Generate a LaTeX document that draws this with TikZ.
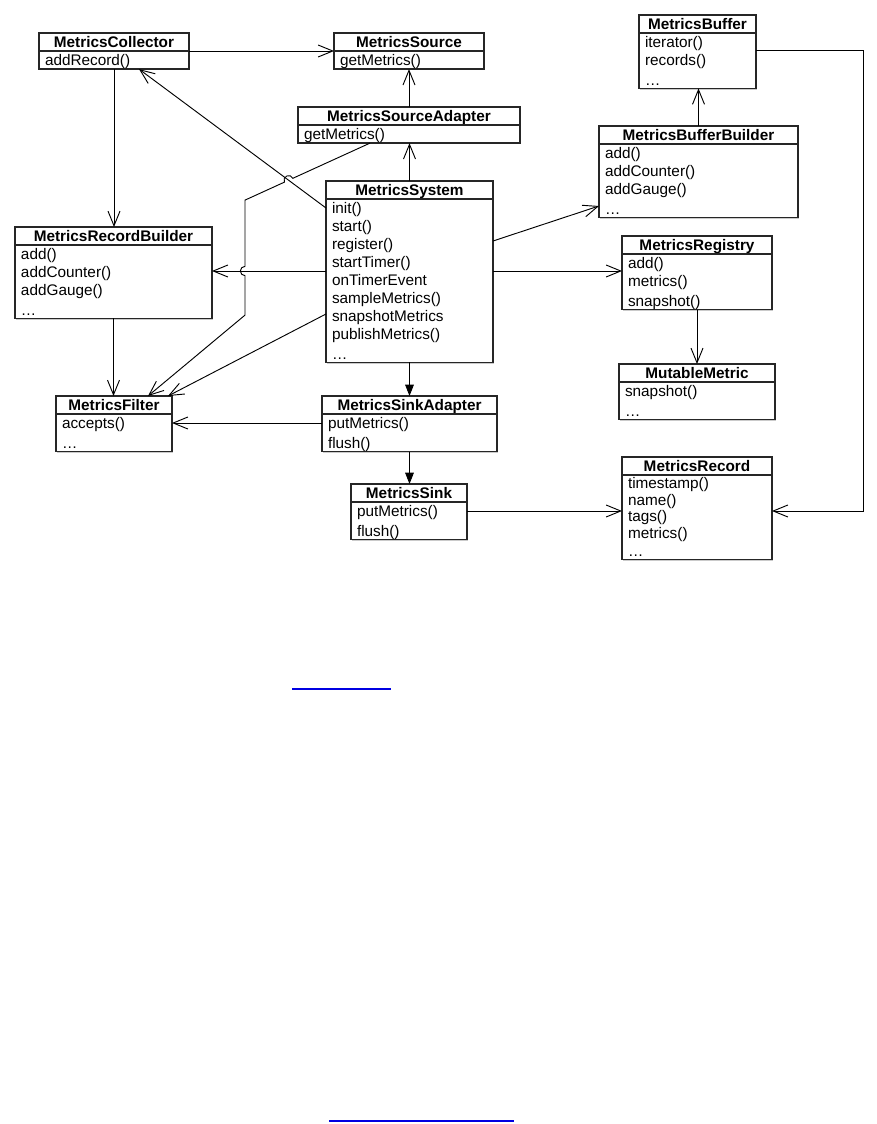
\documentclass[tikz,border=0pt]{standalone}
\usepackage{fontspec}
\setmainfont{Liberation Sans}
\usetikzlibrary{arrows.meta,calc,intersections,shadows}
\definecolor{linkblue}{RGB}{0,0,225}
\newcommand\rs{\rule[-0.17\baselineskip]{0pt}{\baselineskip}}
\newcommand\umlskipfix{\lineskiplimit=-20pt\relax\lineskip=0pt\relax}
\newcommand\umlclass[8]{%
  \pgfmathsetlengthmacro\umlW{#4*0.75pt}%
  \pgfmathsetlengthmacro\umlTW{#4*0.75pt-9pt}%
  \pgfmathsetlengthmacro\umlBH{#5*0.75pt}%
  \node[hdr, minimum width=\umlW, anchor=north west] (#1-h) at (#2,#3) {#7};
  \node[bdy, minimum width=\umlW, minimum height=\umlBH, text width=\umlTW,
        anchor=north west, font={\fontsize{11.5}{#6}\selectfont}] (#1) at (#1-h.south west) {\umlskipfix #8};
}
\tikzset{
  boxshade/.style={drop shadow={shadow xshift=0.9pt, shadow yshift=-0.9pt, fill=black!35, opacity=0.6}},
  hdr/.style={draw=black!85, line width=1.05pt, fill=white, outer sep=0pt, inner xsep=2pt, inner ysep=0pt,
    minimum height=13.5pt, text height=10.85pt, text depth=2.65pt, boxshade,
    font=\bfseries\fontsize{11.5}{13.5}\selectfont},
  bdy/.style={draw=black!85, line width=1.05pt, fill=white, outer sep=0pt, inner xsep=4.5pt, inner ysep=0pt, align=left, boxshade},
  conn/.style={line width=0.7pt, draw=black},
  openarr/.style={-{Straight Barb[length=11pt,width=9pt]}},
  fillarr/.style={-{Triangle[length=8.5pt,width=6.5pt]}},
  linkline/.style={draw=linkblue, line width=1.1pt}
}
\def\jr{3.5pt}
\begin{document}
\begin{tikzpicture}[x=0.75pt,y=-0.75pt]
\useasboundingbox (0,0) rectangle (877,1124);

\umlclass{col}{39}{33}{150}{18}{13.5}{MetricsCollector}{\rs addRecord()}
\umlclass{src}{334}{33}{150}{18}{13.5}{MetricsSource}{\rs getMetrics()}
\umlclass{sad}{298}{107}{222}{18}{13.5}{MetricsSourceAdapter}{\rs getMetrics()}
\umlclass{sys}{326}{181}{167}{162}{13.5}{MetricsSystem}{\rs init()\\\rs start()\\\rs register()\\\rs startTimer()\\\rs onTimerEvent\\\rs sampleMetrics()\\\rs snapshotMetrics\\\rs publishMetrics()\\\rs …}
\umlclass{ska}{322}{396}{175}{36}{13.5}{MetricsSinkAdapter}{\rs putMetrics()\\\rs flush()}
\umlclass{snk}{351}{484}{116}{36}{13.5}{MetricsSink}{\rs putMetrics()\\\rs flush()}
\umlclass{buf}{639}{15}{117}{54}{13.5}{MetricsBuffer}{\rs iterator()\\\rs records()\\\rs …}
\umlclass{bbd}{599}{126}{199}{72}{13.5}{MetricsBufferBuilder}{\rs add()\\\rs addCounter()\\\rs addGauge()\\\rs …}
\umlclass{rbd}{15}{227}{197}{72}{13.5}{MetricsRecordBuilder}{\rs add()\\\rs addCounter()\\\rs addGauge()\\\rs …}
\umlclass{flt}{56}{396}{116}{36}{13.5}{MetricsFilter}{\rs accepts()\\\rs …}
\umlclass{reg}{622}{236}{150}{54}{13.5}{MetricsRegistry}{\rs add()\\\rs metrics()\\\rs snapshot()}
\umlclass{mut}{619}{364}{156}{36}{13.5}{MutableMetric}{\rs snapshot()\\\rs …}
\umlclass{rec}{622}{457}{150}{83}{12.45}{MetricsRecord}{\rs timestamp()\\\rs name()\\\rs tags()\\\rs metrics()\\\rs …}

% connector anchor points
\coordinate (s3) at ($(sys.north west)+(0,9)$);
\coordinate (e3) at ($(col.south west)+(100,0)$);
\coordinate (s6) at ($(sad.south west)+(72,0)$);
\coordinate (w1) at ($(s6)+(-125,57)$);
\coordinate (w2) at ($(w1)+(0,115)$);
\coordinate (e6) at ($(flt-h.north west)+(92,0)$);
\coordinate (s7) at ($(sys.north west)+(0,72)$);
\coordinate (s8) at ($(sys.north west)+(0,115)$);
\coordinate (e8) at ($(flt-h.north west)+(112,0)$);
\coordinate (s10) at ($(ska.north west)+(0,9)$);
\coordinate (s13) at ($(snk.north east)+(0,9)$);
\coordinate (s14) at ($(sys.north east)+(0,42)$);
\coordinate (e14) at ($(bbd.north west)+(0,62)$);
\coordinate (s16) at ($(sys.north east)+(0,72)$);
\coordinate (s18) at ($(buf.north east)+(0,17)$);
\coordinate (e18) at ($(rec.north east)+(0,36)$);

\path[name path=l3] (s3) -- (e3);
\path[name path=l6] (s6) -- (w1);
\path[name intersections={of=l3 and l6, by=j1}];
\coordinate (j2) at (w1 |- s7);

% connectors
\draw[conn,openarr] (col-h.south east) -- (src-h.south west);
\draw[conn,openarr] (col.south) -- (col.south |- rbd-h.north);
\draw[conn,openarr] (s3) -- (e3);
\draw[conn,openarr] (sad-h.north) -- (sad-h.north |- src.south);
\draw[conn,openarr] (sys-h.north) -- (sys-h.north |- sad.south);
\draw[conn,openarr] let \p1=($(s6)-(w1)$), \n1={atan2(\y1,\x1)} in
  (s6) -- ($(j1)!\jr!(s6)$) arc[start angle=\n1, delta angle=180, radius=\jr]
  -- (w1) -- ($(j2)!\jr!(w1)$) arc[start angle=90, delta angle=180, radius=\jr]
  -- (w2) -- (e6);
\draw[conn,openarr] (s7) -- (s7 -| rbd.east);
\draw[conn,openarr] (s8) -- (e8);
\draw[conn,openarr] (rbd.south) -- (rbd.south |- flt-h.north);
\draw[conn,openarr] (s10) -- (s10 -| flt.east);
\draw[conn,fillarr] (sys.south) -- (sys.south |- ska-h.north);
\draw[conn,fillarr] (ska.south) -- (ska.south |- snk-h.north);
\draw[conn,openarr] (s13) -- (s13 -| rec.west);
\draw[conn,openarr] (s14) -- (e14);
\draw[conn,openarr] (bbd-h.north) -- (bbd-h.north |- buf.south);
\draw[conn,openarr] (s16) -- (s16 -| reg.west);
\draw[conn,openarr] (reg.south) -- (reg.south |- mut-h.north);
\draw[conn,openarr] (s18) -| ($(e18)+(91,0)$) -- (e18);

% link underlines
\draw[linkline] (292,689) -- (391,689);
\draw[linkline] (329,1121) -- (514,1121);
\end{tikzpicture}
\end{document}
